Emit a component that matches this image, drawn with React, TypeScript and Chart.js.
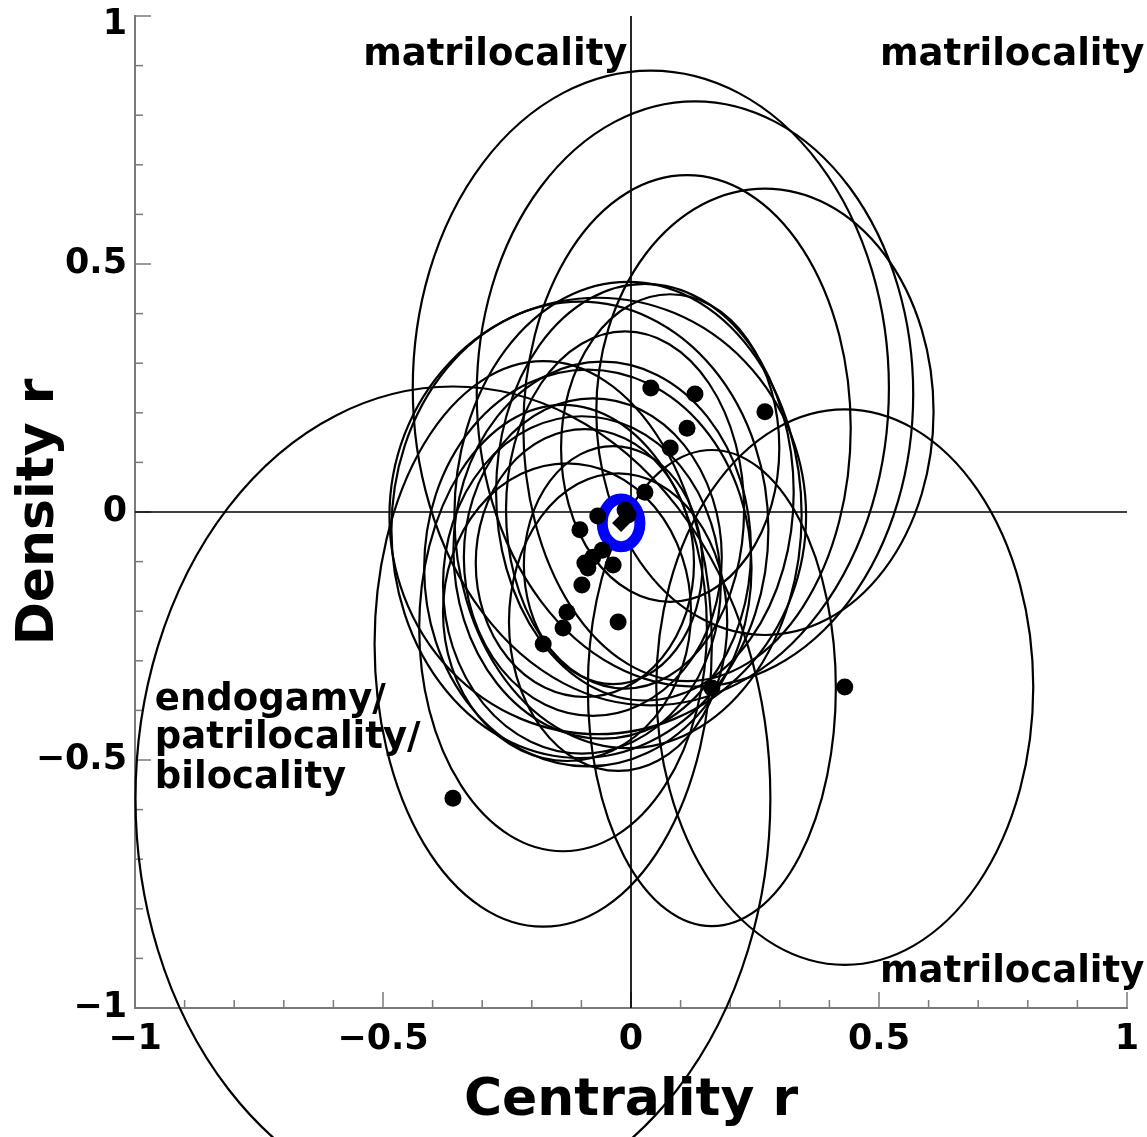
import React, { useEffect, useRef } from 'react';
import { Chart, registerables } from 'chart.js';

Chart.register(...registerables);

// ---- data ----
const centralityR = [0.040, 0.129, 0.270, 0.113, 0.079, 0.028, -0.012, -0.006, -0.067, -0.103, -0.058, -0.077, -0.093, -0.087, -0.036, -0.099, -0.129, -0.137, -0.026, -0.177, -0.359, 0.431, 0.163];
const densityR = [0.250, 0.238, 0.202, 0.169, 0.129, 0.040, 0.004, -0.006, -0.008, -0.036, -0.077, -0.091, -0.103, -0.113, -0.107, -0.147, -0.202, -0.234, -0.222, -0.266, -0.577, -0.353, -0.355];
const spreadX = [0.48, 0.44, 0.34, 0.33, 0.22, 0.30, 0.24, 0.35, 0.42, 0.38, 0.30, 0.26, 0.22, 0.33, 0.18, 0.28, 0.25, 0.29, 0.22, 0.34, 0.64, 0.38, 0.25];
const spreadY = [0.64, 0.59, 0.45, 0.51, 0.31, 0.42, 0.36, 0.47, 0.44, 0.46, 0.38, 0.32, 0.27, 0.40, 0.24, 0.34, 0.30, 0.45, 0.30, 0.57, 0.83, 0.56, 0.48];

const meanPoint = [-0.02, -0.022];
const meanSpread = [0.038, 0.048];

const majorTicks = [-1, -0.5, 0, 0.5, 1];
const majorTickLabels = ['\u22121', '\u22120.5', '0', '0.5', '1'];
const minorTicks = [-0.9, -0.8, -0.7, -0.6, -0.4, -0.3, -0.2, -0.1, 0.1, 0.2, 0.3, 0.4, 0.6, 0.7, 0.8, 0.9];

const annotationTexts = ['matrilocality', 'matrilocality', 'matrilocality', 'endogamy/', 'patrilocality/', 'bilocality'];
const annotationX = [-0.54, 0.502, 0.502, -0.96, -0.96, -0.96];
const annotationY = [0.901, 0.901, -0.948, -0.399, -0.476, -0.556];

const FONT = "'DejaVu Sans', 'Liberation Sans', sans-serif";

const labelFor = (v: number) => {
  const i = majorTicks.findIndex((t) => Math.abs(t - v) < 1e-9);
  return i >= 0 ? majorTickLabels[i] : '';
};

const decorPlugin = {
  id: 'decor',
  beforeDatasetsDraw(chart: any) {
    const { ctx } = chart;
    const xs = chart.scales.x;
    const ys = chart.scales.y;
    ctx.save();
    // inward ticks
    ctx.strokeStyle = '#7a7a7a';
    ctx.lineWidth = 1.5;
    const left = xs.left;
    const bottom = ys.bottom;
    const tick = (vals: number[], len: number) => {
      vals.forEach((v) => {
        const px = xs.getPixelForValue(v);
        ctx.beginPath();
        ctx.moveTo(px, bottom);
        ctx.lineTo(px, bottom - len);
        ctx.stroke();
        const py = ys.getPixelForValue(v);
        ctx.beginPath();
        ctx.moveTo(left, py);
        ctx.lineTo(left + len, py);
        ctx.stroke();
      });
    };
    tick(majorTicks, 16);
    tick(minorTicks, 8);

    // crosshair at zero
    ctx.strokeStyle = '#000';
    ctx.lineWidth = 1.7;
    ctx.beginPath();
    ctx.moveTo(xs.getPixelForValue(0), ys.getPixelForValue(1));
    ctx.lineTo(xs.getPixelForValue(0), ys.getPixelForValue(-1));
    ctx.moveTo(xs.getPixelForValue(-1), ys.getPixelForValue(0));
    ctx.lineTo(xs.getPixelForValue(1), ys.getPixelForValue(0));
    ctx.stroke();

    // ellipses
    const unitX = Math.abs(xs.getPixelForValue(1) - xs.getPixelForValue(0));
    const unitY = Math.abs(ys.getPixelForValue(1) - ys.getPixelForValue(0));
    ctx.lineWidth = 2.2;
    ctx.strokeStyle = '#000';
    for (let i = 0; i < centralityR.length; i++) {
      ctx.beginPath();
      ctx.ellipse(
        xs.getPixelForValue(centralityR[i]),
        ys.getPixelForValue(densityR[i]),
        spreadX[i] * unitX,
        spreadY[i] * unitY,
        0, 0, Math.PI * 2
      );
      ctx.stroke();
    }

    // blue mean ellipse
    ctx.beginPath();
    ctx.ellipse(
      xs.getPixelForValue(meanPoint[0]),
      ys.getPixelForValue(meanPoint[1]),
      meanSpread[0] * unitX,
      meanSpread[1] * unitY,
      0, 0, Math.PI * 2
    );
    ctx.fillStyle = '#fff';
    ctx.fill();
    ctx.strokeStyle = '#0000ff';
    ctx.lineWidth = 11;
    ctx.stroke();

    // annotations
    ctx.fillStyle = '#000';
    ctx.font = `bold 37px ${FONT}`;
    ctx.textAlign = 'left';
    ctx.textBaseline = 'alphabetic';
    annotationTexts.forEach((t, i) => {
      ctx.fillText(t, xs.getPixelForValue(annotationX[i]), ys.getPixelForValue(annotationY[i]));
    });
    ctx.restore();
  },
};

export default function App() {
  const ref = useRef<HTMLCanvasElement | null>(null);
  useEffect(() => {
    if (!ref.current) return;
    const pts = centralityR.map((x, i) => ({ x, y: densityR[i] }));
    const chart = new Chart(ref.current, {
      type: 'scatter',
      data: {
        datasets: [
          {
            data: pts,
            pointRadius: 8.5,
            pointHoverRadius: 8.5,
            backgroundColor: '#000',
            borderColor: '#000',
            borderWidth: 0,
            clip: false,
          } as any,
          {
            data: [{ x: meanPoint[0], y: meanPoint[1] }],
            pointStyle: 'rectRot',
            pointRadius: 9,
            backgroundColor: '#000',
            borderColor: '#000',
            borderWidth: 0,
            clip: false,
          } as any,
        ],
      },
      options: {
        animation: false,
        responsive: false,
        maintainAspectRatio: false,
        devicePixelRatio: 1,
        events: [],
        layout: { padding: { top: 16, right: 20, left: 0, bottom: 0 } },
        plugins: { legend: { display: false }, tooltip: { enabled: false } },
        scales: {
          x: {
            type: 'linear',
            position: 'bottom',
            min: -1,
            max: 1,
            afterBuildTicks: (s: any) => {
              s.ticks = majorTicks.map((v) => ({ value: v }));
            },
            afterFit: (s: any) => {
              s.height = 129;
              s.paddingLeft = 0;
              s.paddingRight = 0;
            },
            ticks: {
              callback: (v: any) => labelFor(Number(v)),
              font: { family: FONT, size: 35, weight: 'bold', lineHeight: 1 },
              color: '#000',
              padding: 14,
              maxRotation: 0,
              minRotation: 0,
              autoSkip: false,
            },
            grid: { display: false, drawTicks: false },
            border: { display: true, color: '#7a7a7a', width: 2 },
            title: {
              display: true,
              text: 'Centrality r',
              color: '#000',
              font: { family: FONT, size: 52, weight: 'bold', lineHeight: 1.2 },
              padding: { top: 0, bottom: 4 },
            },
          },
          y: {
            type: 'linear',
            position: 'left',
            min: -1,
            max: 1,
            afterBuildTicks: (s: any) => {
              s.ticks = majorTicks.map((v) => ({ value: v }));
            },
            afterFit: (s: any) => {
              s.width = 135;
              s.paddingTop = 0;
              s.paddingBottom = 0;
            },
            ticks: {
              // the top label sits a little below its tick, as in the reference
              callback: (v: any) => (Number(v) === 1 ? ['', labelFor(1)] : labelFor(Number(v))),
              font: (c: any) => ({
                family: FONT,
                size: 35,
                weight: 'bold',
                lineHeight: c && c.tick && c.tick.value === 1 ? '18px' : 1,
              }),
              color: '#000',
              padding: 8,
              autoSkip: false,
            },
            grid: { display: false, drawTicks: false },
            border: { display: true, color: '#7a7a7a', width: 2 },
            title: {
              display: true,
              text: 'Density r',
              color: '#000',
              font: { family: FONT, size: 52, weight: 'bold', lineHeight: 1.2 },
              padding: { top: 8, bottom: 0 },
            },
          },
        },
      } as any,
      plugins: [decorPlugin],
    });
    return () => chart.destroy();
  }, []);

  return (
    <div style={{ position: 'absolute', left: 0, top: 0, width: 1147, height: 1137, background: '#fff', overflow: 'hidden' }}>
      <canvas ref={ref} width={1147} height={1137} style={{ display: 'block', width: 1147, height: 1137 }} />
    </div>
  );
}
